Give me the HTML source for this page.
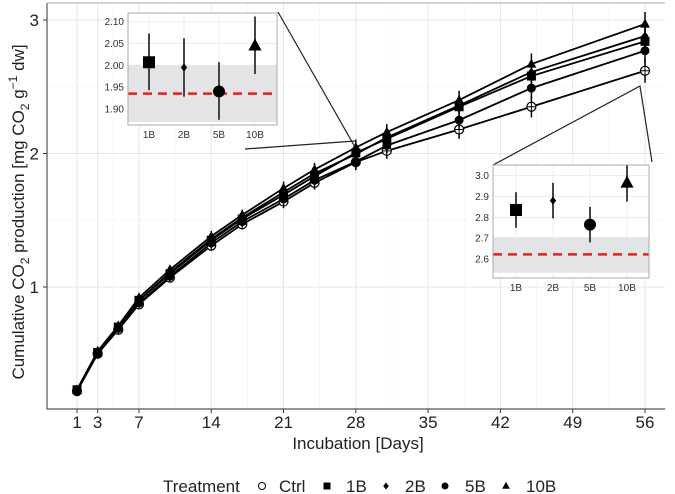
<!DOCTYPE html>
<html><head><meta charset="utf-8"><style>
body{margin:0;background:#fff;}
svg{display:block;font-family:"Liberation Sans",sans-serif;}
</style></head><body>
<svg id="c" width="675" height="494" viewBox="0 0 675 494"></svg>
<script>
const days=[1,3,5,7,10,14,17,21,24,28,31,38,45,56];
const ctrl=[0.22,0.50,0.68,0.87,1.07,1.31,1.47,1.64,1.78,1.935,2.02,2.18,2.35,2.62];
const b1=[0.23,0.51,0.70,0.90,1.10,1.35,1.51,1.69,1.83,2.005,2.11,2.35,2.58,2.84];
const b2=[0.23,0.51,0.70,0.90,1.11,1.36,1.52,1.71,1.85,1.995,2.12,2.36,2.61,2.88];
const b5=[0.22,0.50,0.69,0.88,1.08,1.33,1.49,1.66,1.80,1.94,2.06,2.25,2.49,2.77];
const b10=[0.23,0.52,0.71,0.92,1.13,1.38,1.54,1.74,1.88,2.045,2.16,2.40,2.67,2.97];
const errs=[0.01,0.02,0.02,0.03,0.03,0.04,0.04,0.05,0.05,0.06,0.06,0.07,0.08,0.09];
const xTicks=[1,3,7,14,21,28,35,42,49,56];
const yTicks=[1,2,3];
const insetCats=['1B','2B','5B','10B'];
const ins1Val=[2.007,1.995,1.94,2.045];
const ins1Lo=[1.943,1.928,1.875,1.98];
const ins1Hi=[2.073,2.062,2.007,2.112];
const ins1Ctrl=1.935, ins1Band=[1.87,2.0];
const ins1Ticks=[1.90,1.95,2.00,2.05,2.10];
const ins2Val=[2.835,2.88,2.765,2.965];
const ins2Lo=[2.75,2.795,2.68,2.875];
const ins2Hi=[2.92,2.965,2.85,3.05];
const ins2Ctrl=2.623, ins2Band=[2.535,2.705];
const ins2Ticks=[2.6,2.7,2.8,2.9,3.0];

const svg=document.getElementById('c');
const NS='http://www.w3.org/2000/svg';
function el(t,a,p){const e=document.createElementNS(NS,t);for(const k in a)e.setAttribute(k,a[k]);(p||svg).appendChild(e);return e;}
const X=d=>77+(d-1)*(568/55);
const Y=v=>20+(3-v)*133.5;
const PL=47,PR=665,PT=3,PB=409;
[4.5,10.5,17.5,24.5,31.5,38.5,45.5,52.5].forEach(d=>{const g=el('line',{x1:X(d),x2:X(d),y1:PT,y2:PB,stroke:'#f2f2f2','stroke-width':0.6});});
[1.5,2.5].forEach(v=>{const g=el('line',{x1:PL,x2:PR,y1:Y(v),y2:Y(v),stroke:'#f2f2f2','stroke-width':0.6});});
xTicks.forEach(d=>{
 const g=el('line',{x1:X(d),x2:X(d),y1:PT,y2:PB,stroke:'#e6e6e6','stroke-width':1});
 
 const t=el('line',{x1:X(d),x2:X(d),y1:PB,y2:PB+4,stroke:'#333'});
 
 const l=el('text',{x:X(d),y:428,'font-size':17,'text-anchor':'middle',fill:'#222'});l.textContent=d;
 
});
yTicks.forEach(v=>{
 const g=el('line',{x1:PL,x2:PR,y1:Y(v),y2:Y(v),stroke:'#e6e6e6','stroke-width':1});
 
 const t=el('line',{x1:PL-4,x2:PL,y1:Y(v),y2:Y(v),stroke:'#333'});
 
 const l=el('text',{x:PL-8,y:Y(v)+6,'font-size':17,'text-anchor':'end',fill:'#222'});l.textContent=v;
 
});
const ax=el('path',{d:`M${PL},${PT}V${PB}H${PR}`,fill:'none',stroke:'#555','stroke-width':1.2});

const panelTop=el('line',{x1:PL,x2:PR,y1:PT,y2:PT,stroke:'#aaa'});



function marker(shape,x,y,s,parent){
 let m;
 if(shape==='circleOpen'){m=el('g',{},parent);el('circle',{cx:x,cy:y,r:s,fill:'#fff',stroke:'#000','stroke-width':1.2},m);el('path',{d:`M${x-s},${y}H${x+s}M${x},${y-s}V${y+s}`,stroke:'#000','stroke-width':1},m);}
 else if(shape==='square')m=el('rect',{x:x-s,y:y-s,width:2*s,height:2*s,fill:'#000'},parent);
 else if(shape==='diamond')m=el('path',{d:`M${x},${y-s}L${x+s*0.8},${y}L${x},${y+s}L${x-s*0.8},${y}Z`,fill:'#000'},parent);
 else if(shape==='circle')m=el('circle',{cx:x,cy:y,r:s,fill:'#000'},parent);
 else m=el('path',{d:`M${x},${y-s*1.2}L${x+s*1.1},${y+s*0.8}L${x-s*1.1},${y+s*0.8}Z`,fill:'#000'},parent);
 return m;
}
const series=[['ctrl',ctrl,'circleOpen'],['1b',b1,'square'],['2b',b2,'diamond'],['5b',b5,'circle'],['10b',b10,'triangle']];
series.forEach(([n,vals,sh])=>{
 const g=el('g',{});
 el('polyline',{points:days.map((d,i)=>X(d)+','+Y(vals[i])).join(' '),fill:'none',stroke:'#000','stroke-width':1.8},g);
 days.forEach((d,i)=>{
  el('line',{x1:X(d),x2:X(d),y1:Y(vals[i]+errs[i]),y2:Y(vals[i]-errs[i]),stroke:'#000','stroke-width':1.5},g);
  const m=marker(sh,X(d),Y(vals[i]),4.5,g);
  
 });
});
const cl=el('path',{d:`M278,12L355,147M245,149L355,141M493,165L640,86L652,162`,fill:'none',stroke:'#222','stroke-width':1.2});


function inset(nm,x0,x1,y0,y1,vTop,vBot,ticks,vals,lo,hi,ctrlv,band,dec,catX){
 const g=el('g',{});
 el('rect',{x:x0,y:y0,width:x1-x0,height:y1-y0,fill:'#fff'},g);
 const iy=v=>y0+(vTop-v)/(vTop-vBot)*(y1-y0);
 ticks.forEach(t=>{el('line',{x1:x0,x2:x1,y1:iy(t),y2:iy(t),stroke:'#ececec'},g);
  const l=el('text',{x:x0-4,y:iy(t)+3.5,'font-size':10,'text-anchor':'end',fill:'#333'},g);l.textContent=t.toFixed(dec);
  });
 catX.forEach(cx=>el('line',{x1:cx,x2:cx,y1:y0,y2:y1,stroke:'#ececec'},g));
 const b=el('rect',{x:x0,y:iy(band[1]),width:x1-x0,height:iy(band[0])-iy(band[1]),fill:'#e3e4e4'},g);
 
 const r=el('line',{x1:x0,x2:x1,y1:iy(ctrlv),y2:iy(ctrlv),stroke:'#ee1c1c','stroke-width':2.5,'stroke-dasharray':'9,6'},g);
 
 const shapes=['square','diamond','circle','triangle'];
 insetCats.forEach((c,i)=>{
  el('line',{x1:catX[i],x2:catX[i],y1:iy(hi[i]),y2:iy(lo[i]),stroke:'#444','stroke-width':2},g);
  const m=marker(shapes[i],catX[i],iy(vals[i]),i===1?4:6,g);
  
  const l=el('text',{x:catX[i],y:y1+13,'font-size':10,'text-anchor':'middle',fill:'#333'},g);l.textContent=c;
  
 });
 el('rect',{x:x0,y:y0,width:x1-x0,height:y1-y0,fill:'none',stroke:'#aaa'},g);
}
inset('inset-day28',128,277,13,125,2.12,1.863,ins1Ticks,ins1Val,ins1Lo,ins1Hi,ins1Ctrl,ins1Band,2,[149,184,219,255]);
inset('inset-day56',493,649,165,278,3.05,2.51,ins2Ticks,ins2Val,ins2Lo,ins2Hi,ins2Ctrl,ins2Band,1,[516,553,590,627]);

const xt=el('text',{x:358,y:449,'font-size':17,'text-anchor':'middle',fill:'#222'});xt.textContent='Incubation [Days]';

const yt=el('text',{x:0,y:0,'font-size':17,'text-anchor':'middle',fill:'#222',transform:'translate(24,212) rotate(-90)'});
yt.innerHTML='Cumulative CO<tspan font-size="12" dy="5">2</tspan><tspan dy="-5"> production [mg CO</tspan><tspan font-size="12" dy="5">2</tspan><tspan dy="-5">  g</tspan><tspan font-size="12" dy="-7">−1</tspan><tspan dy="7"> dw]</tspan>';

const lg=el('g',{});
const lt=el('text',{x:163,y:492,'font-size':17,fill:'#222'},lg);lt.textContent='Treatment';

[['circleOpenL',262,'Ctrl',279],['square',327,'1B',346],['diamond',386,'2B',405],['circle',445,'5B',465],['triangle',506,'10B',526]].forEach(([sh,mx,lab,tx])=>{
 const e=el('g',{},lg);
 if(sh==='circleOpenL')el('circle',{cx:mx,cy:486,r:3.5,fill:'#fff',stroke:'#000'},e);
 else marker(sh,mx,486,3.5,e);
 const t=el('text',{x:tx,y:492,'font-size':17,fill:'#222'},e);t.textContent=lab;
});
</script>
</body></html>
